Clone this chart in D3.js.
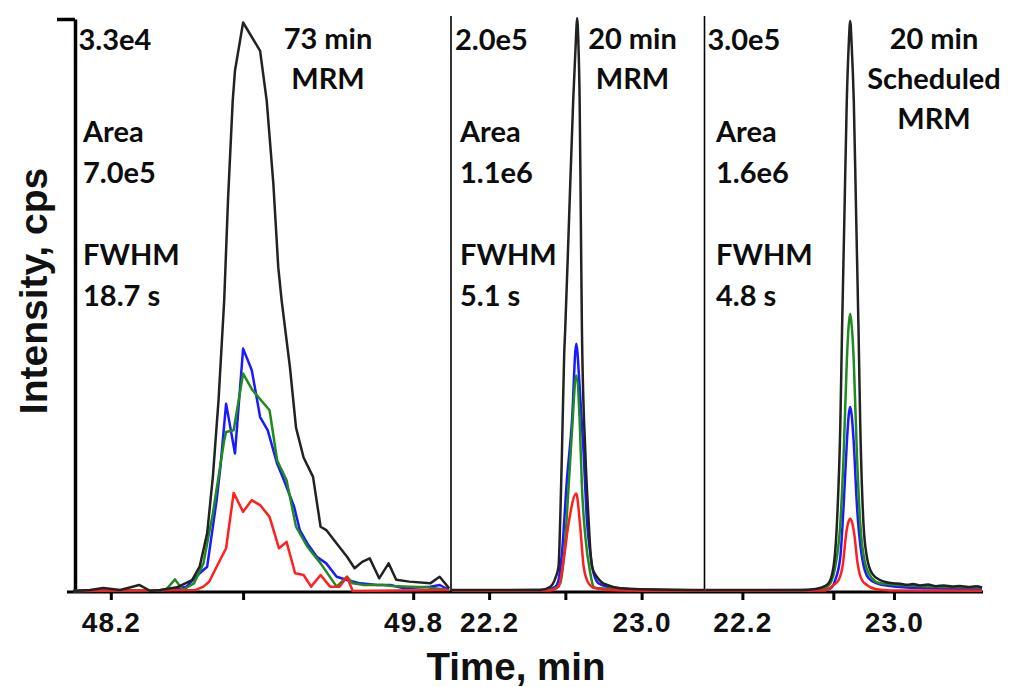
<!DOCTYPE html>
<html>
<head>
<meta charset="utf-8">
<script src="https://cdn.jsdelivr.net/npm/d3@7"></script>
<style>
  html, body { margin: 0; padding: 0; background: #fff; }
  svg { display: block; }
  .axisfont { font-family: "Liberation Sans", Arial, sans-serif; font-weight: bold; }
  .note { font-family: Lato, "Open Sans", sans-serif; font-weight: bold; font-size: 29px; fill: #0d0d0d; }
</style>
</head>
<body>
<svg id="chart" width="1010" height="687"></svg>
<script>
// ---- Chromatogram traces: [retention time (min), intensity (cps)] ----

// Panel 1: 73 min MRM
const mrm73Black = [[48.00,0],[48.09,60],[48.16,170],[48.25,60],[48.35,350],[48.41,0],[48.46,60],[48.55,210],[48.63,630],[48.67,1400],[48.71,3340],[48.74,6570],[48.77,10980],[48.80,16730],[48.82,22480],[48.845,28230],[48.857,29960],[48.90,32740],[48.99,31110],[49.025,28230],[49.06,23460],[49.086,18650],[49.104,16730],[49.148,12860],[49.18,9410],[49.22,7690],[49.27,6570],[49.31,3700],[49.34,3510],[49.395,2740],[49.45,1970],[49.49,1310],[49.53,1680],[49.57,1880],[49.62,730],[49.67,1590],[49.71,650],[49.78,540],[49.89,440],[49.94,820],[49.99,160]];
const mrm73Blue = [[48.00,0],[48.51,60],[48.60,250],[48.67,1020],[48.71,1400],[48.76,5230],[48.78,7150],[48.81,10790],[48.857,7920],[48.90,13960],[48.946,12710],[48.99,10020],[49.03,9260],[49.08,7340],[49.12,6280],[49.17,4850],[49.20,3510],[49.24,2740],[49.29,1970],[49.34,1590],[49.395,820],[49.45,630],[49.52,440],[49.61,345],[49.68,345],[49.75,155],[49.89,250],[49.94,345],[49.99,60]];
const mrm73Green = [[48.00,0],[48.49,60],[48.54,670],[48.58,60],[48.64,440],[48.69,1590],[48.74,4470],[48.80,8680],[48.81,9160],[48.85,9260],[48.90,12520],[48.95,11560],[49.04,10410],[49.08,7530],[49.13,6380],[49.18,3700],[49.24,2550],[49.31,1590],[49.395,250],[49.45,820],[49.48,440],[49.54,345],[49.64,345],[49.69,290],[49.78,250],[49.87,210],[49.99,60]];
const mrm73Red = [[48.00,0],[48.65,60],[48.69,250],[48.72,530],[48.76,1400],[48.81,2460],[48.85,5650],[48.90,4560],[48.945,5230],[48.99,4950],[49.04,4270],[49.09,2460],[49.13,2830],[49.175,1020],[49.22,920],[49.26,250],[49.31,920],[49.36,250],[49.41,250],[49.45,820],[49.48,0],[49.99,60]];

// Panel 2: 20 min MRM
const mrm20Black = [[22.005,350],[22.468,350],[22.521,1500],[22.547,4420],[22.564,8470],[22.573,24740],[22.582,48080],[22.594,82920],[22.599,90930],[22.620,131000],[22.641,171060],[22.655,191970],[22.661,199980],[22.668,191970],[22.675,171060],[22.681,131000],[22.687,90930],[22.705,48080],[22.722,24740],[22.731,14280],[22.740,8470],[22.766,4880],[22.789,3140],[22.819,2090],[22.889,940],[22.994,590],[23.330,350]];
const mrm20Blue = [[22.005,170],[22.494,350],[22.547,1500],[22.564,3830],[22.582,13240],[22.608,38670],[22.635,59580],[22.657,86300],[22.675,71180],[22.696,47970],[22.713,24740],[22.731,13130],[22.748,6170],[22.774,2680],[22.819,1500],[22.994,520],[23.330,170]];
const mrm20Green = [[22.005,170],[22.510,350],[22.552,1050],[22.573,2680],[22.594,13130],[22.617,36340],[22.635,56090],[22.657,75250],[22.675,59580],[22.687,36340],[22.705,18920],[22.731,6170],[22.748,1500],[22.774,940],[22.994,520],[23.330,170]];
const mrm20Red = [[22.005,70],[22.521,170],[22.564,1500],[22.591,10800],[22.617,23590],[22.657,34040],[22.678,22400],[22.696,8470],[22.722,2680],[22.757,940],[22.889,170],[23.330,70]];

// Panel 3: 20 min Scheduled MRM
const sched20Black = [[22.005,520],[22.506,520],[22.585,1050],[22.629,2250],[22.655,4020],[22.681,12700],[22.699,35380],[22.717,87640],[22.726,136400],[22.738,193880],[22.751,256600],[22.761,285340],[22.769,298400],[22.777,285340],[22.788,256600],[22.801,193880],[22.813,136400],[22.822,87640],[22.839,35380],[22.857,17930],[22.884,9250],[22.927,5750],[22.997,4020],[23.033,3760],[23.070,3240],[23.101,3660],[23.138,2870],[23.180,3340],[23.222,2510],[23.264,2870],[23.307,2350],[23.349,2610],[23.391,2090],[23.433,2460],[23.465,1830]];
const sched20Blue = [[22.005,160],[22.611,260],[22.664,1310],[22.690,5750],[22.717,17930],[22.734,44060],[22.752,78910],[22.761,91980],[22.769,96320],[22.777,91980],[22.787,78910],[22.805,44060],[22.831,17930],[22.866,6640],[22.910,4020],[22.980,2610],[23.138,1570],[23.465,1050]];
const sched20Green = [[22.005,260],[22.585,520],[22.637,1570],[22.664,4020],[22.690,12700],[22.717,35380],[22.734,70190],[22.752,122440],[22.761,139000],[22.769,145120],[22.777,139000],[22.787,122440],[22.805,70190],[22.822,35380],[22.848,14480],[22.884,6640],[22.927,4020],[23.033,3140],[23.191,2350],[23.465,1830]];
const sched20Red = [[22.005,100],[22.637,260],[22.681,3140],[22.708,5750],[22.731,14480],[22.748,30150],[22.761,36580],[22.769,37990],[22.777,36580],[22.790,30150],[22.808,14480],[22.831,5750],[22.857,3140],[22.901,1050],[22.980,260],[23.465,100]];

// ---- Panel settings ----
const timeDomains = [[48.0, 50.0], [22.0, 23.33], [22.0, 23.47]];
const fullScales = [3.3e4, 2.0e5, 3.0e5];
const scaleLabels = ["3.3e4", "2.0e5", "3.0e5"];
const areaLabels = ["7.0e5", "1.1e6", "1.6e6"];
const fwhmLabels = ["18.7 s", "5.1 s", "4.8 s"];
const methodLabels = [["73 min", "MRM"], ["20 min", "MRM"], ["20 min", "Scheduled", "MRM"]];
const tickValues = [[48.2, 48.9, 49.8], [22.2, 22.6, 23.0], [22.2, 22.68, 23.0]];
const labeledTicks = [[48.2, 49.8], [22.2, 23.0], [22.2, 23.0]];
const traceSets = [
  [mrm73Blue, mrm73Green, mrm73Red, mrm73Black],
  [mrm20Blue, mrm20Green, mrm20Red, mrm20Black],
  [sched20Blue, sched20Green, sched20Red, sched20Black]
];
const traceColors = ["#1a1aff", "#1f8a1f", "#ff1f1f", "#222222"];

// ---- Layout ----
const svg = d3.select("#chart");
const baseY = 592;               // time axis line
const plotBottom = 591, plotTop = 18;
const panelEdges = [73, 451, 704.5, 983];
const methodCenters = [328, 632.5, 934];
const scaleOffset = [5, 5.5, 4.5];
const noteOffset = [10, 9, 11.5];

svg.append("rect").attr("width", 1010).attr("height", 687).attr("fill", "#fff");

const xScales = timeDomains.map((d, i) =>
  d3.scaleLinear().domain(d).range([panelEdges[i], panelEdges[i + 1]]));
const yScales = fullScales.map(s =>
  d3.scaleLinear().domain([0, s]).range([plotBottom, plotTop]));

// continuous time axis line across all panels
svg.append("line")
  .attr("x1", 67).attr("x2", panelEdges[3])
  .attr("y1", baseY).attr("y2", baseY)
  .attr("stroke", "#000").attr("stroke-width", 3);

// intensity axis on the left (single top tick at full scale)
const yAxis = svg.append("g")
  .attr("transform", "translate(75,0)")
  .call(d3.axisLeft(yScales[0].copy().range([baseY, plotTop + 1]))
    .tickValues([fullScales[0]]).tickFormat("").tickSize(18).tickSizeOuter(0));
yAxis.selectAll("path, line").attr("stroke", "#000").attr("stroke-width", 3.5);

// panel dividers
[1, 2].forEach(i => {
  svg.append("line")
    .attr("x1", panelEdges[i]).attr("x2", panelEdges[i])
    .attr("y1", 16).attr("y2", baseY)
    .attr("stroke", "#000").attr("stroke-width", 1.6);
});

// time axes (one per panel)
xScales.forEach((x, i) => {
  const g = svg.append("g")
    .attr("transform", `translate(0,${baseY})`)
    .call(d3.axisBottom(x).tickValues(tickValues[i])
      .tickFormat(v => labeledTicks[i].includes(v) ? d3.format(".1f")(v) : "")
      .tickSize(8).tickSizeOuter(0).tickPadding(12));
  g.select(".domain").remove();
  g.selectAll(".tick line").attr("stroke", "#000").attr("stroke-width", 3);
  g.selectAll(".tick text")
    .attr("class", "axisfont")
    .attr("fill", "#111")
    .style("font-size", "28px")
    .style("letter-spacing", "1.2px");
});

// traces
traceSets.forEach((set, i) => {
  const line = d3.line()
    .x(d => xScales[i](d[0]))
    .y(d => yScales[i](d[1]))
    .curve(i === 0 ? d3.curveLinear : d3.curveMonotoneX);
  set.forEach((trace, k) => {
    svg.append("path")
      .datum(trace)
      .attr("d", line)
      .attr("fill", "none")
      .attr("stroke", traceColors[k])
      .attr("stroke-width", 2.5)
      .attr("stroke-linejoin", "round");
  });
});

// panel annotations
xScales.forEach((x, i) => {
  const left = panelEdges[i] + (i === 0 ? 2 : 0);
  svg.append("text").attr("class", "note")
    .attr("x", left + scaleOffset[i] - 1.5).attr("y", 50).text(scaleLabels[i]);
  const nx = left + noteOffset[i] - (i === 0 ? 2 : 0);
  [["Area", 141.5], [areaLabels[i], 182.5], ["FWHM", 265], [fwhmLabels[i], 305.5]]
    .forEach(([t, y]) => {
      svg.append("text").attr("class", "note").attr("x", nx).attr("y", y).text(t);
    });
  methodLabels[i].forEach((t, j) => {
    svg.append("text").attr("class", "note")
      .attr("x", methodCenters[i]).attr("y", 48.5 + j * 40)
      .attr("text-anchor", "middle").text(t);
  });
});

// axis titles
svg.append("text").attr("class", "axisfont")
  .attr("x", 516).attr("y", 680)
  .attr("text-anchor", "middle")
  .style("font-size", "38.5px").attr("fill", "#111")
  .text("Time, min");

svg.append("text").attr("class", "axisfont")
  .attr("transform", "translate(47,291) rotate(-90)")
  .attr("text-anchor", "middle")
  .style("font-size", "39px").attr("fill", "#111")
  .text("Intensity, cps");
</script>
</body>
</html>
